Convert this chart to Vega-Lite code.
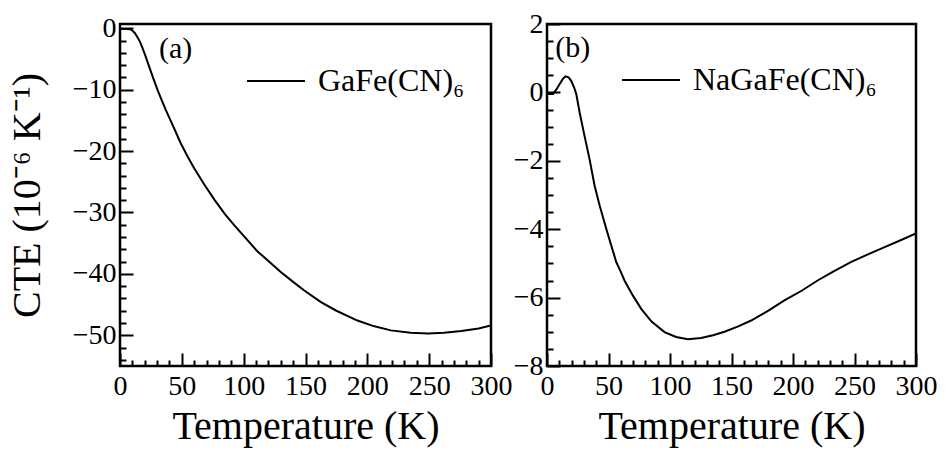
{
  "$schema": "https://vega.github.io/schema/vega-lite/v6.json",
  "background": "white",
  "padding": {"left": 5, "top": 8, "right": 30, "bottom": 5},
  "spacing": -3,
  "config": {
    "view": {"stroke": "black", "strokeWidth": 2.5},
    "font": "Liberation Serif",
    "axis": {
      "domain": false, "grid": false,
      "labelFont": "Liberation Serif", "labelFontSize": 28, "labelColor": "black",
      "titleFont": "Liberation Serif", "titleFontSize": 40, "titleFontWeight": "normal", "titleColor": "black",
      "tickColor": "black", "tickWidth": 2, "labelFlush": false, "labelOverlap": false
    },
    "legend": {
      "orient": "none", "title": null, "symbolType": "stroke", "symbolSize": 3364,
      "symbolStrokeWidth": 2, "symbolStrokeColor": "black", "labelFont": "Liberation Serif", "labelFontSize": 32,
      "labelColor": "black", "labelOffset": 12, "padding": 0, "labelLimit": 400
    }
  },
  "resolve": {
    "scale": {"x": "independent", "y": "independent", "color": "independent"},
    "legend": {"color": "independent"}
  },
  "datasets": {
    "a": [
      {"T": 0, "CTE": -0.1, "series": "GaFe(CN)₆"},
      {"T": 5, "CTE": -0.1, "series": "GaFe(CN)₆"},
      {"T": 8, "CTE": -0.15, "series": "GaFe(CN)₆"},
      {"T": 10, "CTE": -0.35, "series": "GaFe(CN)₆"},
      {"T": 12.1, "CTE": -0.8, "series": "GaFe(CN)₆"},
      {"T": 14, "CTE": -1.4, "series": "GaFe(CN)₆"},
      {"T": 16.2, "CTE": -2.2, "series": "GaFe(CN)₆"},
      {"T": 18, "CTE": -3.1, "series": "GaFe(CN)₆"},
      {"T": 20.2, "CTE": -4.3, "series": "GaFe(CN)₆"},
      {"T": 23.5, "CTE": -6.2, "series": "GaFe(CN)₆"},
      {"T": 27, "CTE": -8.2, "series": "GaFe(CN)₆"},
      {"T": 30.5, "CTE": -10.1, "series": "GaFe(CN)₆"},
      {"T": 33.7, "CTE": -11.7, "series": "GaFe(CN)₆"},
      {"T": 37, "CTE": -13.3, "series": "GaFe(CN)₆"},
      {"T": 40.4, "CTE": -14.8, "series": "GaFe(CN)₆"},
      {"T": 44, "CTE": -16.4, "series": "GaFe(CN)₆"},
      {"T": 49.3, "CTE": -18.8, "series": "GaFe(CN)₆"},
      {"T": 55, "CTE": -21.0, "series": "GaFe(CN)₆"},
      {"T": 60, "CTE": -22.8, "series": "GaFe(CN)₆"},
      {"T": 68, "CTE": -25.4, "series": "GaFe(CN)₆"},
      {"T": 76.3, "CTE": -27.9, "series": "GaFe(CN)₆"},
      {"T": 85, "CTE": -30.3, "series": "GaFe(CN)₆"},
      {"T": 92.5, "CTE": -32.1, "series": "GaFe(CN)₆"},
      {"T": 100, "CTE": -33.8, "series": "GaFe(CN)₆"},
      {"T": 111, "CTE": -36.3, "series": "GaFe(CN)₆"},
      {"T": 120, "CTE": -37.9, "series": "GaFe(CN)₆"},
      {"T": 130, "CTE": -39.7, "series": "GaFe(CN)₆"},
      {"T": 140, "CTE": -41.3, "series": "GaFe(CN)₆"},
      {"T": 149, "CTE": -42.7, "series": "GaFe(CN)₆"},
      {"T": 162.5, "CTE": -44.6, "series": "GaFe(CN)₆"},
      {"T": 175, "CTE": -46.0, "series": "GaFe(CN)₆"},
      {"T": 192, "CTE": -47.6, "series": "GaFe(CN)₆"},
      {"T": 205, "CTE": -48.5, "series": "GaFe(CN)₆"},
      {"T": 219, "CTE": -49.2, "series": "GaFe(CN)₆"},
      {"T": 235, "CTE": -49.6, "series": "GaFe(CN)₆"},
      {"T": 249, "CTE": -49.7, "series": "GaFe(CN)₆"},
      {"T": 262, "CTE": -49.6, "series": "GaFe(CN)₆"},
      {"T": 276, "CTE": -49.3, "series": "GaFe(CN)₆"},
      {"T": 290, "CTE": -48.9, "series": "GaFe(CN)₆"},
      {"T": 300, "CTE": -48.4, "series": "GaFe(CN)₆"}
    ],
    "b": [
      {"T": 0, "CTE": -0.05, "series": "NaGaFe(CN)₆"},
      {"T": 4.9, "CTE": -0.05, "series": "NaGaFe(CN)₆"},
      {"T": 7.5, "CTE": 0.08, "series": "NaGaFe(CN)₆"},
      {"T": 10.2, "CTE": 0.24, "series": "NaGaFe(CN)₆"},
      {"T": 13, "CTE": 0.4, "series": "NaGaFe(CN)₆"},
      {"T": 15.1, "CTE": 0.47, "series": "NaGaFe(CN)₆"},
      {"T": 17.5, "CTE": 0.44, "series": "NaGaFe(CN)₆"},
      {"T": 19.7, "CTE": 0.34, "series": "NaGaFe(CN)₆"},
      {"T": 22, "CTE": 0.15, "series": "NaGaFe(CN)₆"},
      {"T": 23.8, "CTE": -0.05, "series": "NaGaFe(CN)₆"},
      {"T": 26.5, "CTE": -0.58, "series": "NaGaFe(CN)₆"},
      {"T": 30.5, "CTE": -1.27, "series": "NaGaFe(CN)₆"},
      {"T": 34.6, "CTE": -1.95, "series": "NaGaFe(CN)₆"},
      {"T": 38.7, "CTE": -2.73, "series": "NaGaFe(CN)₆"},
      {"T": 42.8, "CTE": -3.31, "series": "NaGaFe(CN)₆"},
      {"T": 48.2, "CTE": -3.99, "series": "NaGaFe(CN)₆"},
      {"T": 52, "CTE": -4.45, "series": "NaGaFe(CN)₆"},
      {"T": 56.3, "CTE": -4.96, "series": "NaGaFe(CN)₆"},
      {"T": 60, "CTE": -5.25, "series": "NaGaFe(CN)₆"},
      {"T": 63, "CTE": -5.5, "series": "NaGaFe(CN)₆"},
      {"T": 66, "CTE": -5.7, "series": "NaGaFe(CN)₆"},
      {"T": 70, "CTE": -5.95, "series": "NaGaFe(CN)₆"},
      {"T": 76.6, "CTE": -6.33, "series": "NaGaFe(CN)₆"},
      {"T": 85, "CTE": -6.7, "series": "NaGaFe(CN)₆"},
      {"T": 95.5, "CTE": -7.01, "series": "NaGaFe(CN)₆"},
      {"T": 105, "CTE": -7.15, "series": "NaGaFe(CN)₆"},
      {"T": 114.5, "CTE": -7.22, "series": "NaGaFe(CN)₆"},
      {"T": 125.3, "CTE": -7.18, "series": "NaGaFe(CN)₆"},
      {"T": 135, "CTE": -7.1, "series": "NaGaFe(CN)₆"},
      {"T": 144.3, "CTE": -7.0, "series": "NaGaFe(CN)₆"},
      {"T": 155, "CTE": -6.85, "series": "NaGaFe(CN)₆"},
      {"T": 166, "CTE": -6.67, "series": "NaGaFe(CN)₆"},
      {"T": 180, "CTE": -6.38, "series": "NaGaFe(CN)₆"},
      {"T": 193, "CTE": -6.08, "series": "NaGaFe(CN)₆"},
      {"T": 207, "CTE": -5.8, "series": "NaGaFe(CN)₆"},
      {"T": 220, "CTE": -5.5, "series": "NaGaFe(CN)₆"},
      {"T": 233, "CTE": -5.23, "series": "NaGaFe(CN)₆"},
      {"T": 247, "CTE": -4.96, "series": "NaGaFe(CN)₆"},
      {"T": 260, "CTE": -4.75, "series": "NaGaFe(CN)₆"},
      {"T": 274, "CTE": -4.53, "series": "NaGaFe(CN)₆"},
      {"T": 287, "CTE": -4.33, "series": "NaGaFe(CN)₆"},
      {"T": 300, "CTE": -4.12, "series": "NaGaFe(CN)₆"}
    ]
  },
  "hconcat": [
    {
      "width": 371, "height": 342,
      "data": {"name": "a"},
      "resolve": {"axis": {"x": "independent", "y": "independent"}},
      "layer": [
        {
          "mark": {"type": "line", "strokeWidth": 2, "clip": true},
          "encoding": {
            "x": {"field": "T", "type": "quantitative",
              "scale": {"domain": [0, 300], "nice": false},
              "axis": {"orient": "bottom", "values": [0, 50, 100, 150, 200, 250, 300], "tickSize": -13, "labelPadding": 19, "title": "Temperature (K)", "titlePadding": 6}},
            "y": {"field": "CTE", "type": "quantitative",
              "scale": {"domain": [-55, 0.7], "nice": false, "zero": false},
              "axis": {"orient": "left", "values": [-50, -40, -30, -20, -10, 0], "tickSize": -13, "labelPadding": 17, "title": "CTE (10⁻⁶ K⁻¹)", "titlePadding": 25}},
            "color": {"field": "series", "type": "nominal", "scale": {"range": ["black"]},
              "legend": {"legendX": 126, "legendY": 27}}
          }
        },
        {
          "data": {"values": [{"T": 31.5, "CTE": -3.3, "label": "(a)"}]},
          "mark": {"type": "text", "align": "left", "baseline": "middle", "fontSize": 30, "font": "Liberation Serif", "color": "black"},
          "encoding": {
            "x": {"field": "T", "type": "quantitative",
              "scale": {"domain": [0, 300], "nice": false},
              "axis": {"orient": "bottom", "values": [10, 20, 30, 40, 60, 70, 80, 90, 110, 120, 130, 140, 160, 170, 180, 190, 210, 220, 230, 240, 260, 270, 280, 290], "tickSize": -6, "labels": false, "title": null}},
            "y": {"field": "CTE", "type": "quantitative",
              "scale": {"domain": [-55, 0.7], "nice": false, "zero": false},
              "axis": {"orient": "left", "values": [-54, -52, -48, -46, -44, -42, -38, -36, -34, -32, -28, -26, -24, -22, -18, -16, -14, -12, -8, -6, -4, -2], "tickSize": -6, "labels": false, "title": null}},
            "text": {"field": "label"}
          }
        }
      ]
    },
    {
      "width": 369, "height": 342,
      "data": {"name": "b"},
      "resolve": {"axis": {"x": "independent", "y": "independent"}},
      "layer": [
        {
          "mark": {"type": "line", "strokeWidth": 2, "clip": true},
          "encoding": {
            "x": {"field": "T", "type": "quantitative",
              "scale": {"domain": [0, 300], "nice": false},
              "axis": {"orient": "bottom", "values": [0, 50, 100, 150, 200, 250, 300], "tickSize": -13, "labelPadding": 19, "title": "Temperature (K)", "titlePadding": 6}},
            "y": {"field": "CTE", "type": "quantitative",
              "scale": {"domain": [-8, 2], "nice": false, "zero": false},
              "axis": {"orient": "left", "values": [-8, -6, -4, -2, 0, 2], "tickSize": -13, "labelPadding": 17, "title": null}},
            "color": {"field": "series", "type": "nominal", "scale": {"range": ["black"]},
              "legend": {"legendX": 74, "legendY": 26}}
          }
        },
        {
          "data": {"values": [{"T": 6.7, "CTE": 1.31, "label": "(b)"}]},
          "mark": {"type": "text", "align": "left", "baseline": "middle", "fontSize": 30, "font": "Liberation Serif", "color": "black"},
          "encoding": {
            "x": {"field": "T", "type": "quantitative",
              "scale": {"domain": [0, 300], "nice": false},
              "axis": {"orient": "bottom", "values": [10, 20, 30, 40, 60, 70, 80, 90, 110, 120, 130, 140, 160, 170, 180, 190, 210, 220, 230, 240, 260, 270, 280, 290], "tickSize": -6, "labels": false, "title": null}},
            "y": {"field": "CTE", "type": "quantitative",
              "scale": {"domain": [-8, 2], "nice": false, "zero": false},
              "axis": {"orient": "left", "values": [-7.5, -7, -6.5, -5.5, -5, -4.5, -3.5, -3, -2.5, -1.5, -1, -0.5, 0.5, 1, 1.5], "tickSize": -6, "labels": false, "title": null}},
            "text": {"field": "label"}
          }
        }
      ]
    }
  ]
}
